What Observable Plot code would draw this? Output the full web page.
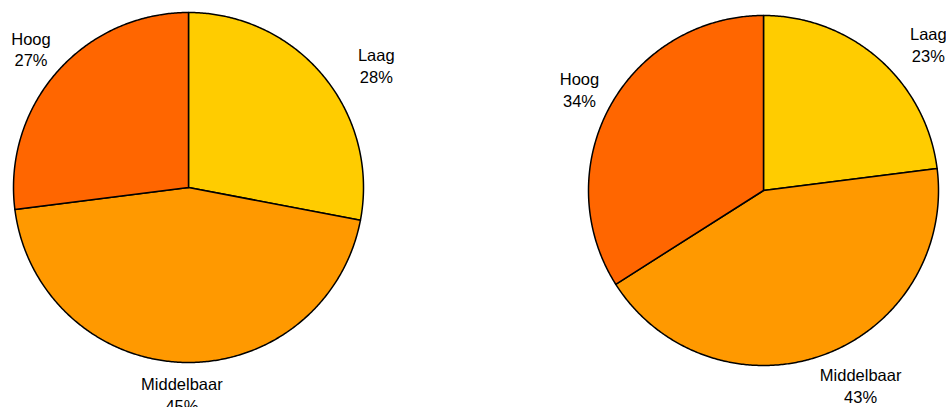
<!DOCTYPE html>
<html>
<head>
<meta charset="utf-8">
<script src="https://cdn.jsdelivr.net/npm/d3@7"></script>
<script src="https://cdn.jsdelivr.net/npm/@observablehq/plot@0.6"></script>
<style>
  html, body { margin: 0; padding: 0; background: #fff; }
  #chart svg { display: block; }
</style>
</head>
<body>
<div id="chart"></div>
<script>
// ---- data ----
const categories = ["Laag", "Middelbaar", "Hoog"];
const pieLeft = [28, 45, 27];
const pieRight = [23, 43, 34];
const sliceColors = ["#FFCC00", "#FF9900", "#FF6600"];

// ---- layout ----
const W = 946, H = 407, R = 175;
const pies = [
  {name: "left", values: pieLeft, cx: 188, cy: 187},
  {name: "right", values: pieRight, cx: 763, cy: 190}
];

const slicePts = [];
const labels = [];
pies.forEach(p => {
  const arcs = d3.pie().sort(null).startAngle(0).endAngle(2 * Math.PI)(p.values);
  arcs.forEach((a, i) => {
    const id = p.name + "-" + i;
    slicePts.push({id, cat: categories[i], x: p.cx, y: p.cy});
    const steps = Math.max(2, Math.ceil((a.endAngle - a.startAngle) / (Math.PI / 360)));
    for (let k = 0; k <= steps; k++) {
      const t = a.startAngle + (a.endAngle - a.startAngle) * k / steps;
      slicePts.push({id, cat: categories[i], x: p.cx + R * Math.sin(t), y: p.cy - R * Math.cos(t)});
    }
    const mid = (a.startAngle + a.endAngle) / 2;
    const s = Math.sin(mid), c = Math.cos(mid);
    labels.push({
      text: categories[i] + "\n" + a.data + "%",
      x: p.cx + 1.2 * R * s + (s > 0.2 ? 26 : 0),
      y: p.cy - 1.2 * R * c + (s > 0.5 && c > 0 ? 11 : 0) + (c < -0.9 ? -3 : 0)
    });
  });
});

const chart = Plot.plot({
  width: W,
  height: H,
  margin: 0,
  x: {type: "identity", axis: null},
  y: {type: "identity", axis: null},
  color: {domain: categories, range: sliceColors},
  style: {fontFamily: "Liberation Sans, Arial, sans-serif", background: "#fff"},
  marks: [
    Plot.line(slicePts, {
      x: "x", y: "y", z: "id", fill: "cat",
      stroke: "#000", strokeWidth: 1.5, curve: "linear-closed", strokeLinejoin: "round"
    }),
    Plot.text(labels, {
      x: "x", y: "y", text: "text",
      fontSize: 16.5, lineHeight: 1.32, fill: "#000", textAnchor: "middle"
    })
  ]
});
document.getElementById("chart").appendChild(chart);
</script>
</body>
</html>
